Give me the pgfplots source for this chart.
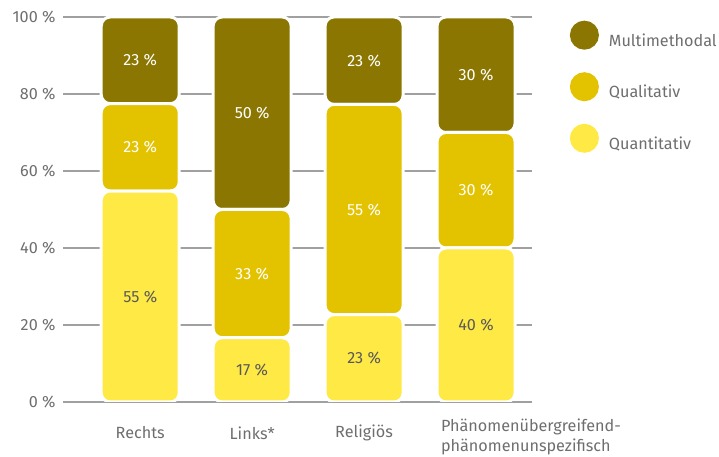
\documentclass[border=0pt]{standalone}
\usepackage{pgfplots}
\usepackage{pgfplotstable}
\pgfplotsset{compat=1.18}
\usepackage{fontspec}
\setmainfont{Fira Sans}
\definecolor{multi}{HTML}{8A7600}
\definecolor{qual}{HTML}{E3C200}
\definecolor{quant}{HTML}{FFE945}
\definecolor{txt}{HTML}{6E6E6E}
\definecolor{darktxt}{HTML}{5A5A5A}
\definecolor{gridc}{HTML}{A0A0A0}
\newcommand{\fs}{\fontsize{16.2bp}{20bp}\selectfont}
\pgfplotstableread{
x quant qual multi
0 54.8 22.7 22.5
1 16.7 33.3 50
2 22.7 54.6 22.7
3 40 30 30
}\data
\pgfplotstableread{
x y lab
0 88.75 23
0 66.15 23
1 75 50
1 33.35 33
2 88.65 23
2 50 55
3 85 30
3 55 30
}\labw
\pgfplotstableread{
x y lab
0 27.4 55
1 8.35 17
2 11.35 23
3 20 40
}\labd
\begin{document}
\begin{tikzpicture}
\pgfplotsset{
  base/.style={
    scale only axis, width=469bp, height=385bp,
    xmin=-0.69, xmax=3.5, ymin=0, ymax=100,
  }
}
\begin{axis}[base, name=ax,
  ybar stacked, bar width=78bp,
  axis line style={draw=none}, major tick length=0pt,
  ymajorgrids, major grid style={draw=gridc, line width=1.2bp},
  ytick={0,20,40,60,80,100},
  yticklabels={0 \%,20 \%,40 \%,60 \%,80 \%,100 \%},
  xtick={0,1,2,3},
  xticklabels={Rechts, Links*, Religiös, {\makebox[0pt][l]{\hspace*{-35bp}\raisebox{-9bp}[0pt][0pt]{\begin{tabular}{@{}l@{}}Phänomenübergreifend-\\phänomenunspezifisch\end{tabular}}}}},
  tick label style={font=\fs, text=txt},
  xticklabel style={anchor=center, yshift=-31bp},
  yticklabel style={xshift=-4bp},
  reverse legend,
  legend cell align=left,
  legend style={at={(1.0804,0.991)}, anchor=north west, draw=none, fill=none, inner sep=0pt, row sep=22.5bp, font=\fs, text=txt,
    /tikz/every odd column/.append style={column sep=8bp}},
]
\addplot[fill=quant, draw=white, line width=3bp, rounded corners=9bp, legend image code/.code={\fill[quant] (13bp,5.5bp) circle (13bp);}] table[x=x,y=quant]{\data};
\addlegendentry{Quantitativ}
\addplot[fill=qual, draw=white, line width=3bp, rounded corners=9bp, legend image code/.code={\fill[qual] (13bp,5.5bp) circle (13bp);}] table[x=x,y=qual]{\data};
\addlegendentry{Qualitativ}
\addplot[fill=multi, draw=white, line width=3bp, rounded corners=9bp, legend image code/.code={\fill[multi] (13bp,5.5bp) circle (13bp);}] table[x=x,y=multi]{\data};
\addlegendentry{Multimethodal}
\end{axis}
\begin{axis}[base, hide axis]
\addplot[draw=none, mark=none, nodes near coords={\pgfplotspointmeta~\%}, point meta=explicit symbolic,
  every node near coord/.append style={anchor=center, text=white, font=\fs}] table[x=x,y=y,meta=lab]{\labw};
\addplot[draw=none, mark=none, nodes near coords={\pgfplotspointmeta~\%}, point meta=explicit symbolic,
  every node near coord/.append style={anchor=center, text=darktxt, font=\fs}] table[x=x,y=y,meta=lab]{\labd};
\end{axis}
\pgfresetboundingbox
\path ([xshift=-63bp,yshift=-55bp]ax.south west) rectangle ([xshift=187bp,yshift=17bp]ax.north east);
\end{tikzpicture}
\end{document}
